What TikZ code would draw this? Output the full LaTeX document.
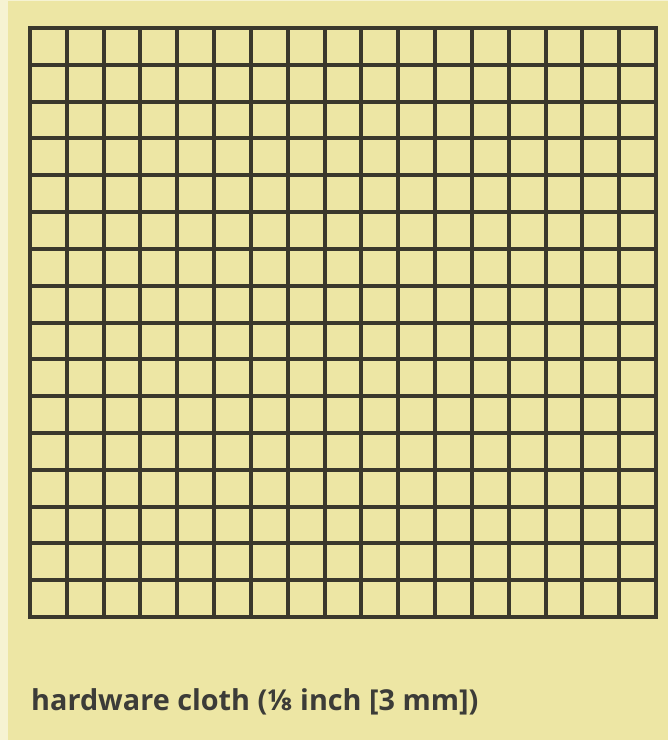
\documentclass[tikz,border=0pt]{standalone}
\usepackage{fontspec}
\setmainfont{Open Sans}
\definecolor{bgyellow}{RGB}{237,230,164}
\definecolor{wire}{RGB}{58,56,44}
\definecolor{txt}{RGB}{60,60,56}
\tikzset{wireline/.style={draw=wire,line width=4pt,line cap=rect}}
\begin{document}
\begin{tikzpicture}[x=1pt,y=-1pt]
\useasboundingbox (0,0) rectangle (668,740);
\fill[white!50!bgyellow] (0,0) rectangle (668,740);
\fill[bgyellow] (8,1) rectangle (668,740);
\coordinate (gridNW) at (30,28);
\coordinate (gridSE) at (656,617);
\foreach \i in {0,...,17}{
  \draw[wireline] ({30+\i*626/17},28) -- ({30+\i*626/17},617);
}
\foreach \j in {0,...,16}{
  \draw[wireline] (30,{28+\j*589/16}) -- (656,{28+\j*589/16});
}
\node[anchor=base west,inner sep=0pt,text=txt,font=\fontsize{28.8}{34}\selectfont\bfseries] (caption) at (31,710) {hardware cloth (⅛ inch [3 mm])};
\end{tikzpicture}
\end{document}
